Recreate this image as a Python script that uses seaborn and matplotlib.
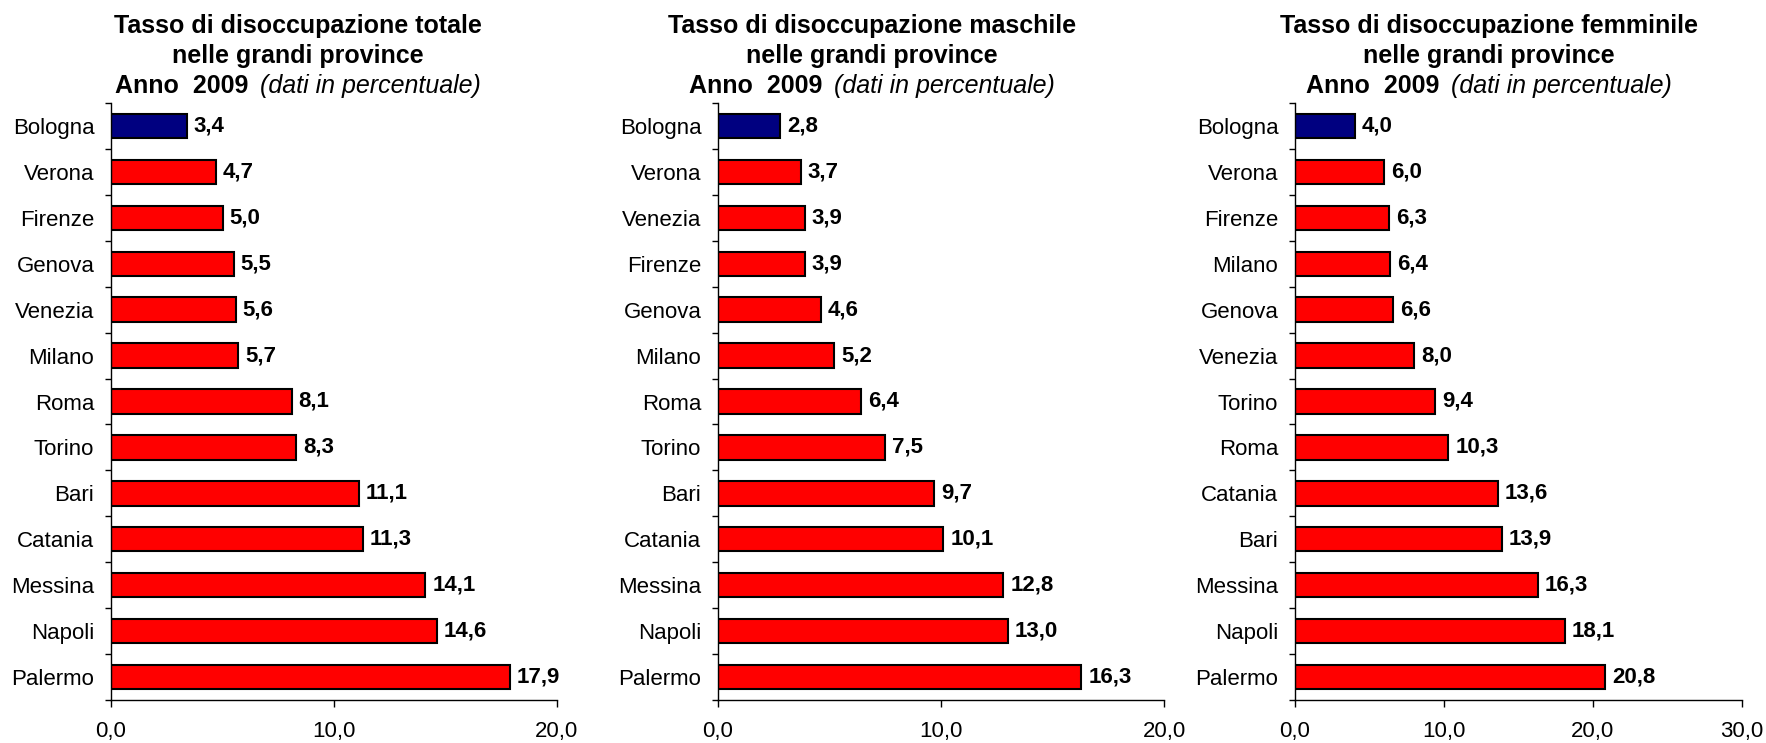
import numpy as np
import pandas as pd
import seaborn as sns
import matplotlib
matplotlib.use("Agg")
import matplotlib.pyplot as plt
from matplotlib.ticker import FuncFormatter, FixedLocator

# dati (anno 2009, percentuali)
citta_tot = ["Bologna", "Verona", "Firenze", "Genova", "Venezia", "Milano", "Roma",
             "Torino", "Bari", "Catania", "Messina", "Napoli", "Palermo"]
val_tot = [3.4, 4.7, 5.0, 5.5, 5.6, 5.7, 8.1, 8.3, 11.1, 11.3, 14.1, 14.6, 17.9]

citta_mas = ["Bologna", "Verona", "Venezia", "Firenze", "Genova", "Milano", "Roma",
             "Torino", "Bari", "Catania", "Messina", "Napoli", "Palermo"]
val_mas = [2.8, 3.7, 3.9, 3.9, 4.6, 5.2, 6.4, 7.5, 9.7, 10.1, 12.8, 13.0, 16.3]

citta_fem = ["Bologna", "Verona", "Firenze", "Milano", "Genova", "Venezia", "Torino",
             "Roma", "Catania", "Bari", "Messina", "Napoli", "Palermo"]
val_fem = [4.0, 6.0, 6.3, 6.4, 6.6, 8.0, 9.4, 10.3, 13.6, 13.9, 16.3, 18.1, 20.8]

titoli = ["Tasso di disoccupazione totale", "Tasso di disoccupazione maschile",
          "Tasso di disoccupazione femminile"]
xmax = [20, 20, 30]
xticks = [[0, 10, 20], [0, 10, 20], [0, 10, 20, 30]]

sns.set_style("white")
plt.rcParams['font.family'] = ['Liberation Sans', 'DejaVu Sans']
plt.rcParams['text.color'] = 'black'
plt.rcParams['axes.labelcolor'] = 'black'
plt.rcParams['xtick.color'] = 'black'
plt.rcParams['ytick.color'] = 'black'

W, H = 1766, 743
fig = plt.figure(figsize=(W / 100, H / 100), dpi=100)

lefts = [111, 718, 1295]
widths = [446, 446, 447]
title_cx = [298, 872, 1489]
top_px, bottom_px = 103, 700

fmt_it = lambda v: f"{v:.1f}".replace(".", ",")

dati = [(citta_tot, val_tot), (citta_mas, val_mas), (citta_fem, val_fem)]
for i, (citta, vals) in enumerate(dati):
    ax = fig.add_axes([lefts[i] / W, (H - bottom_px) / H, widths[i] / W,
                       (bottom_px - top_px) / H])
    df = pd.DataFrame({"citta": citta, "valore": vals})
    colori = {c: ("#000080" if c == "Bologna" else "#FF0000") for c in citta}
    sns.barplot(data=df, x="valore", y="citta", hue="citta", palette=colori,
                legend=False, orient="h", width=0.53, edgecolor="black",
                linewidth=1.5, saturation=1, ax=ax)
    for cont in ax.containers:
        ax.bar_label(cont, fmt=fmt_it, padding=5, fontsize=16,
                     fontweight="bold", color="black")
    ax.set_xlim(0, xmax[i])
    ax.set_ylim(len(citta) - 0.5, -0.5)
    ax.set_xlabel("")
    ax.set_ylabel("")
    ax.xaxis.set_major_locator(FixedLocator(xticks[i]))
    ax.xaxis.set_major_formatter(FuncFormatter(lambda v, p: fmt_it(v)))
    ax.yaxis.set_minor_locator(FixedLocator(np.arange(-0.5, len(citta), 1.0)))
    ax.tick_params(axis="y", which="major", length=0, labelsize=16, pad=12,
                   labelcolor="black")
    ax.tick_params(axis="y", which="minor", length=4, width=1, color="black",
                   direction="out", left=True)
    ax.tick_params(axis="x", length=5, width=1, color="black", direction="out",
                   bottom=True, labelsize=16, pad=10, labelcolor="black")
    for s in ["top", "right"]:
        ax.spines[s].set_visible(False)
    for s in ["left", "bottom"]:
        ax.spines[s].set_color("black")
        ax.spines[s].set_linewidth(1)

    cx = title_cx[i] / W
    fig.text(cx, (H - 33) / H, titoli[i], ha="center", va="baseline",
             fontsize=18, fontweight="bold")
    fig.text(cx, (H - 63) / H, "nelle grandi province", ha="center",
             va="baseline", fontsize=18, fontweight="bold")

# terza riga del titolo: parte in grassetto + parte in corsivo, centrate insieme
fig.canvas.draw()
rend = fig.canvas.get_renderer()
gap = 12
for i in range(3):
    t1 = fig.text(0, (H - 93) / H, "Anno  2009", ha="left", va="baseline",
                  fontsize=18, fontweight="bold")
    t2 = fig.text(0, (H - 93) / H, "(dati in percentuale)", ha="left",
                  va="baseline", fontsize=18, fontstyle="italic")
    w1 = t1.get_window_extent(rend).width
    w2 = t2.get_window_extent(rend).width
    x0 = title_cx[i] - (w1 + gap + w2) / 2
    t1.set_x(x0 / W)
    t2.set_x((x0 + w1 + gap) / W)

fig.savefig("out.png", dpi=100)
